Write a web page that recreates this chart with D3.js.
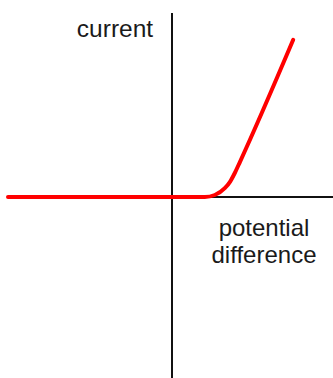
<!DOCTYPE html>
<html>
<head>
<meta charset="utf-8">
<script src="https://cdn.jsdelivr.net/npm/d3@7"></script>
<style>
  html, body { margin: 0; padding: 0; background: #fff; }
  text { font-family: "Liberation Sans", Arial, sans-serif; fill: #1a1a1a; }
</style>
</head>
<body>
<div id="chart"></div>
<script>
'use strict';

// potential difference (V) and current (I) for the curve
const voltage = [-4.1, 0, 0.82, 1.07, 1.32, 1.45, 1.57, 1.7, 3.03];
const current = [0, 0, 0, 0.05, 0.22, 0.38, 0.6, 0.88, 3.93];

const xLabel = ['potential', 'difference'];
const yLabel = 'current';

const width = 333;
const height = 378;

const x = d3.scaleLinear().domain([-4.3, 4.025]).range([0, width]);
const y = d3.scaleLinear().domain([-4.525, 4.925]).range([height, 0]);

const svg = d3.select('#chart')
  .append('svg')
  .attr('width', width)
  .attr('height', height);

// axes
svg.append('line')
  .attr('x1', x(0)).attr('x2', x(0))
  .attr('y1', 13).attr('y2', height)
  .attr('stroke', '#111')
  .attr('stroke-width', 2);

svg.append('line')
  .attr('x1', x(0)).attr('x2', width)
  .attr('y1', y(0)).attr('y2', y(0))
  .attr('stroke', '#111')
  .attr('stroke-width', 2);

// curve
const points = voltage.map((v, i) => [v, current[i]]);
const line = d3.line()
  .x(d => x(d[0]))
  .y(d => y(d[1]))
  .curve(d3.curveMonotoneX);

svg.append('path')
  .datum(points)
  .attr('d', line)
  .attr('fill', 'none')
  .attr('stroke', '#ff0000')
  .attr('stroke-width', 4)
  .attr('stroke-linecap', 'round')
  .attr('stroke-linejoin', 'round');

// labels
svg.append('text')
  .attr('x', 115)
  .attr('y', 37)
  .attr('text-anchor', 'middle')
  .attr('font-size', 24.5)
  .text(yLabel);

svg.selectAll('.xlabel')
  .data(xLabel)
  .enter()
  .append('text')
  .attr('class', 'xlabel')
  .attr('x', 264)
  .attr('y', (d, i) => 236 + i * 27)
  .attr('text-anchor', 'middle')
  .attr('font-size', 24)
  .text(d => d);
</script>
</body>
</html>
